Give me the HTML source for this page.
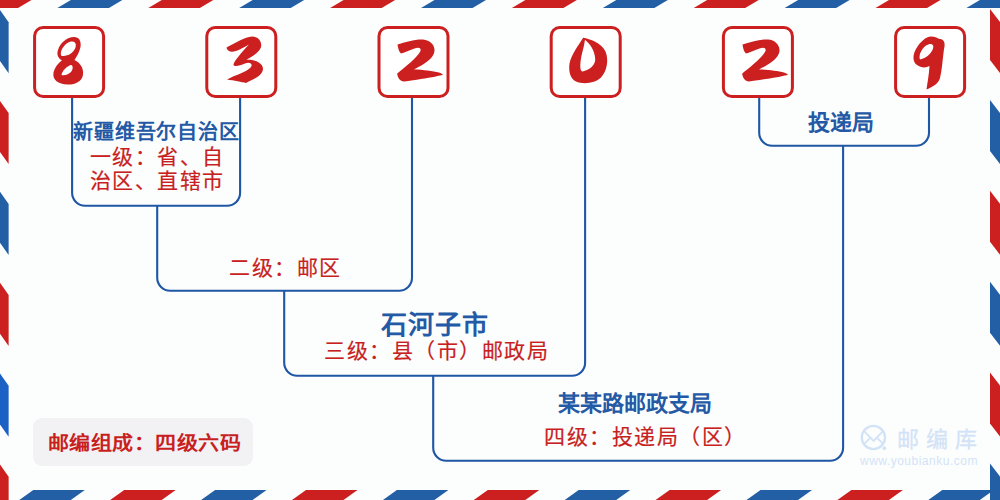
<!DOCTYPE html>
<html lang="zh-CN"><head><meta charset="utf-8"><title>邮编 832029</title>
<style>
html,body{margin:0;padding:0}
body{width:1000px;height:500px;overflow:hidden;position:relative;background:#fcfefd;font-family:"Liberation Sans",sans-serif}
svg.bg{position:absolute;left:0;top:0}
.t{position:absolute;white-space:nowrap;line-height:1;}
.b{color:#2459a6;font-weight:bold}
.r{color:#c81f1f;-webkit-text-stroke:.2px currentColor}
.badge{position:absolute;left:33px;top:418px;width:220px;height:48px;border-radius:9px;background:#f2f1f4}
</style></head><body>
<svg class="bg" role="img" aria-label="邮编 832029" width="1000" height="500" viewBox="0 0 1000 500">
<g><polygon fill="#235fa5" points="-124.4,8 -72.9,8 -59.4,0 -110.9,0"/>
<polygon fill="#cc1f1f" points="-33.5,8 18,8 31.5,0 -20,0"/>
<polygon fill="#235fa5" points="57.4,8 108.9,8 122.4,0 70.9,0"/>
<polygon fill="#cc1f1f" points="148.3,8 199.8,8 213.3,0 161.8,0"/>
<polygon fill="#235fa5" points="239.2,8 290.7,8 304.2,0 252.7,0"/>
<polygon fill="#cc1f1f" points="330.1,8 381.6,8 395.1,0 343.6,0"/>
<polygon fill="#235fa5" points="421,8 472.5,8 486,0 434.5,0"/>
<polygon fill="#cc1f1f" points="511.9,8 563.4,8 576.9,0 525.4,0"/>
<polygon fill="#235fa5" points="602.8,8 654.3,8 667.8,0 616.3,0"/>
<polygon fill="#cc1f1f" points="693.7,8 745.2,8 758.7,0 707.2,0"/>
<polygon fill="#235fa5" points="784.6,8 836.1,8 849.6,0 798.1,0"/>
<polygon fill="#cc1f1f" points="875.5,8 927,8 940.5,0 889,0"/>
<polygon fill="#235fa5" points="966.4,8 1017.9,8 1031.4,0 979.9,0"/>
<polygon fill="#cc1f1f" points="1057.3,8 1108.8,8 1122.3,0 1070.8,0"/>
<polygon fill="#cc1f1f" points="-71.6,500 -20.1,500 -6.1,490 -57.6,490"/>
<polygon fill="#235fa5" points="19.3,500 70.8,500 84.8,490 33.3,490"/>
<polygon fill="#cc1f1f" points="110.2,500 161.7,500 175.7,490 124.2,490"/>
<polygon fill="#235fa5" points="201.1,500 252.6,500 266.6,490 215.1,490"/>
<polygon fill="#cc1f1f" points="292,500 343.5,500 357.5,490 306,490"/>
<polygon fill="#235fa5" points="382.9,500 434.4,500 448.4,490 396.9,490"/>
<polygon fill="#cc1f1f" points="473.8,500 525.3,500 539.3,490 487.8,490"/>
<polygon fill="#235fa5" points="564.7,500 616.2,500 630.2,490 578.7,490"/>
<polygon fill="#cc1f1f" points="655.6,500 707.1,500 721.1,490 669.6,490"/>
<polygon fill="#235fa5" points="746.5,500 798,500 812,490 760.5,490"/>
<polygon fill="#cc1f1f" points="837.4,500 888.9,500 902.9,490 851.4,490"/>
<polygon fill="#235fa5" points="928.3,500 979.8,500 993.8,490 942.3,490"/>
<polygon fill="#cc1f1f" points="1019.2,500 1070.7,500 1084.7,490 1033.2,490"/>
<polygon fill="#235fa5" points="1110.1,500 1161.6,500 1175.6,490 1124.1,490"/>
<polygon fill="#cc1f1f" points="0,-80.9 8.64,-68.7 8.64,-17.7 0,-29.9"/>
<polygon fill="#235fa5" points="0,10 8.64,22.2 8.64,73.2 0,61"/>
<polygon fill="#cc1f1f" points="0,100.9 8.64,113.1 8.64,164.1 0,151.9"/>
<polygon fill="#235fa5" points="0,191.8 8.64,204 8.64,255 0,242.8"/>
<polygon fill="#cc1f1f" points="0,282.7 8.64,294.9 8.64,345.9 0,333.7"/>
<polygon fill="#1b60c4" points="0,373.6 8.64,385.8 8.64,436.8 0,424.6"/>
<polygon fill="#cc1f1f" points="0,464.5 8.64,476.7 8.64,527.7 0,515.5"/>
<polygon fill="#235fa5" points="0,555.4 8.64,567.6 8.64,618.6 0,606.4"/>
<polygon fill="#235fa5" points="990,-81.9 1000,-68.9 1000,-17.9 990,-30.9"/>
<polygon fill="#cc1f1f" points="990,9 1000,22 1000,73 990,60"/>
<polygon fill="#235fa5" points="990,99.9 1000,112.9 1000,163.9 990,150.9"/>
<polygon fill="#cc1f1f" points="990,190.8 1000,203.8 1000,254.8 990,241.8"/>
<polygon fill="#235fa5" points="990,281.7 1000,294.7 1000,345.7 990,332.7"/>
<polygon fill="#cc1f1f" points="990,372.6 1000,385.6 1000,436.6 990,423.6"/>
<polygon fill="#235fa5" points="990,463.5 1000,476.5 1000,527.5 990,514.5"/>
<polygon fill="#cc1f1f" points="990,554.4 1000,567.4 1000,618.4 990,605.4"/></g>
<g fill="none" stroke="#1f57a5" stroke-width="2.1"><path d="M72.1 97V192.7C72.1 199.88 77.92 205.7 85.1 205.7H227.1C234.28 205.7 240.1 199.88 240.1 192.7V97"/>
<path d="M157.2 205.7V277.7C157.2 284.88 163.02 290.7 170.2 290.7H399C406.18 290.7 412 284.88 412 277.7V97"/>
<path d="M284.2 290.7V362.7C284.2 369.88 290.02 375.7 297.2 375.7H572.1C579.28 375.7 585.1 369.88 585.1 362.7V97"/>
<path d="M433.2 375.7V447.7C433.2 454.88 439.02 460.7 446.2 460.7H830.1C837.28 460.7 843.1 454.88 843.1 447.7V145.7"/>
<path d="M759.2 97V132.7C759.2 139.88 765.02 145.7 772.2 145.7H916C923.18 145.7 929 139.88 929 132.7V97"/></g>
<g fill="#fff" stroke="#cc1f1f" stroke-width="3"><rect x="34.60" y="27.5" width="69" height="69" rx="8.5"/><rect x="206.80" y="27.5" width="69" height="69" rx="8.5"/><rect x="379.00" y="27.5" width="69" height="69" rx="8.5"/><rect x="551.20" y="27.5" width="69" height="69" rx="8.5"/><rect x="723.40" y="27.5" width="69" height="69" rx="8.5"/><rect x="895.60" y="27.5" width="69" height="69" rx="8.5"/></g>
<g fill="#cc1f1f" fill-rule="evenodd">
<path transform="translate(45 35) scale(.1)" d="M290 20C340 20 365 60 355 120C345 170 320 210 295 250C352 280 388 330 380 395C372 465 300 498 228 496C128 492 76 445 84 382C95 320 140 275 170 255C130 230 115 195 130 150C150 80 220 20 290 20ZM162 207C145 170 185 88 258 66C302 55 318 90 302 132C282 182 222 218 162 207ZM165 400C170 360 220 310 260 300C280 300 285 340 260 370C235 395 190 410 165 400Z"/>
<path transform="translate(220 35) scale(.1)" d="M65 125C150 80 250 20 320 15C390 15 420 70 410 120C395 170 330 210 265 248C350 245 430 280 430 340C425 410 320 450 260 480C220 470 140 455 70 445C150 400 270 370 310 320C330 290 300 265 250 285C200 305 150 320 135 300C130 275 210 180 290 95C230 125 170 170 115 168C85 165 65 140 65 125Z"/>
<path transform="translate(390 35) scale(.1)" d="M75 95C150 70 260 40 330 45C400 50 450 100 445 160C440 230 350 290 240 344C330 345 430 360 490 375C520 385 530 395 528 400C490 405 460 415 420 422C330 435 200 460 140 464C100 460 75 430 72 385C150 320 270 230 305 160C315 130 285 120 245 135C190 155 140 180 110 185C90 170 80 130 75 95Z"/>
<path transform="translate(560 35) scale(.1)" d="M232 28C300 40 410 75 455 165C490 250 470 360 410 425C350 485 230 495 160 465C100 435 85 360 95 285C115 195 180 110 232 28ZM250 48C300 90 345 150 352 235C355 290 320 340 226 364C205 365 200 330 205 270C210 200 240 130 250 48Z"/>
<path transform="translate(735 35) scale(.1)" d="M75 95C150 70 260 40 330 45C400 50 450 100 445 160C440 230 350 290 240 344C330 345 430 360 490 375C520 385 530 395 528 400C490 405 460 415 420 422C330 435 200 460 140 464C100 460 75 430 72 385C150 320 270 230 305 160C315 130 285 120 245 135C190 155 140 180 110 185C90 170 80 130 75 95Z"/>
<path transform="translate(905 35) scale(.1)" d="M260 15C300 15 330 35 350 40C395 45 405 90 390 140C375 250 370 350 350 430C340 480 280 520 215 545C225 470 240 400 245 310C210 330 160 330 120 300C75 270 75 200 110 140C150 70 210 15 260 15ZM150 245C135 205 160 145 210 105C250 78 292 85 282 130C270 178 220 228 150 245Z"/>
</g>
</svg>
<div class="badge"></div>
<div id="t1" class="t b" style="left:73px;top:121.5px;font-size:20px;letter-spacing:.85px">新疆维吾尔自治区</div>
<div id="t2" class="t r" style="left:89.5px;top:144.7px;font-size:21px;line-height:24px;letter-spacing:1.5px">一级：省、自<br>治区、直辖市</div>
<div id="t3" class="t r" style="left:229px;top:256.6px;font-size:21px;letter-spacing:1.5px">二级：邮区</div>
<div id="t4" class="t b" style="left:381px;top:312px;font-size:26px;letter-spacing:1px">石河子市</div>
<div id="t5" class="t r" style="left:324px;top:340.2px;font-size:21px;letter-spacing:1.5px">三级：县（市）邮政局</div>
<div id="t6" class="t b" style="left:558.3px;top:392.8px;font-size:22px">某某路邮政支局</div>
<div id="t7" class="t r" style="left:544px;top:426px;font-size:21px;letter-spacing:1.5px">四级：投递局（区）</div>
<div id="t8" class="t b" style="left:808px;top:111.5px;font-size:22px">投递局</div>
<div id="t9" class="t b" style="left:48px;top:433.5px;font-size:21px;letter-spacing:.45px;color:#c81f1f;transform:scaleY(.9);transform-origin:0 0">邮编组成：四级六码</div>
<svg class="bg" width="1000" height="500" viewBox="0 0 1000 500">
<g fill="none" stroke="#d3e3f7" stroke-width="2.4"><circle cx="873.4" cy="437.5" r="11.6"/><path stroke-width="1.9" d="M864.6 431.6l9 9.2 9-9.2M864.8 443.4l5.2-5.2M882.6 443.4l-5.2-5.2"/></g>
<circle cx="884.4" cy="448.2" r="1.9" fill="#d3e3f7"/>
</svg>
<div id="t10" class="t" style="left:897px;top:429px;font-size:22px;letter-spacing:6.9px;-webkit-text-stroke:.3px currentColor;color:#d3e3f7">邮编库</div>
<div id="t11" class="t" style="left:860px;top:455px;font-size:12px;letter-spacing:0.5px;color:#d3e3f7">www.youbianku.com</div>
</body></html>
